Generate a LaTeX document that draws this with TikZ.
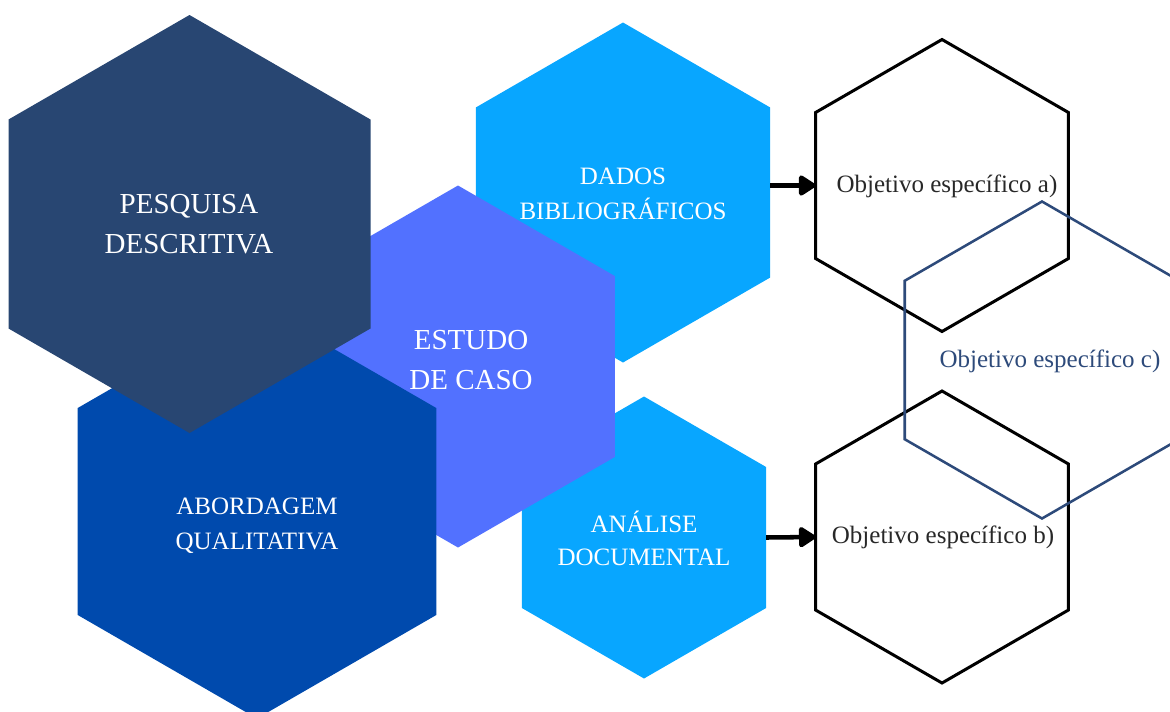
\documentclass[tikz,border=0pt]{standalone}
\usepackage{fontspec}
\setmainfont{Liberation Serif}
\definecolor{pesqnavy}{RGB}{40, 70, 114}
\definecolor{abordblue}{RGB}{0, 74, 173}
\definecolor{estudoviolet}{RGB}{82, 113, 255}
\definecolor{fontecyan}{RGB}{8, 166, 255}
\definecolor{objnavy}{RGB}{45, 74, 122}
\definecolor{objgray}{RGB}{40, 40, 40}
\usetikzlibrary{shapes.geometric,arrows.meta}

\begin{document}
\begin{tikzpicture}[x=0.75pt, y=-0.75pt,
        hexa/.style={regular polygon, regular polygon sides=6, regular polygon rotate=30, inner sep=0pt, outer sep=0pt, minimum size=#1},
        bigtxt/.style={align=center, text=white, font=\fontsize{21.75}{30}\selectfont},
        midtxt/.style={align=center, text=white, font=\fontsize{18.75}{26.25}\selectfont},
        objtxt/.style={font=\fontsize{18.75}{22}\selectfont},
        seta/.style={-{Triangle[length=14pt, width=17pt, round]}, line width=3.4pt}]
        \useasboundingbox (0, 0) rectangle (1170, 711);

        % Fontes de dados (atras)
        \node[hexa=255pt, fill=fontecyan] (dados) at (623, 192.5) {};
        \node[midtxt] (dadostxt) at (623, 194) {DADOS\\BIBLIOGRÁFICOS};
        \node[hexa=211.5pt, fill=fontecyan] (analise) at (644, 537.5) {};
        \node[midtxt, font=\fontsize{18.75}{24.75}\selectfont] (analisetxt) at (644, 538) {ANÁLISE\\DOCUMENTAL};

        % Estudo de caso
        \node[hexa=271.5pt, fill=estudoviolet] (estudo) at (458, 366.5) {};
        \node[bigtxt] (estudotxt) at (471, 360) {ESTUDO\\DE CASO};

        % Abordagem e tipo de pesquisa
        \node[hexa=310.5pt, fill=abordblue] (abordagem) at (257, 511.5) {};
        \node[midtxt] (abordagemtxt) at (257, 526) {ABORDAGEM\\QUALITATIVA};
        \node[hexa=313.5pt, fill=pesqnavy] (pesquisa) at (189.5, 224) {};
        \node[bigtxt] (pesquisatxt) at (189, 224) {PESQUISA\\DESCRITIVA};

        % Objetivos especificos
        \node[hexa=219pt, draw=black, line width=2.25pt] (obja) at (942, 185.5) {};
        \node[objtxt, text=objgray] (objatxt) at (947, 186) {Objetivo específico a)};
        \node[hexa=219pt, draw=black, line width=2.25pt] (objb) at (942, 537) {};
        \node[objtxt, text=objgray] (objbtxt) at (943, 537) {Objetivo específico b)};
        \node[hexa=237.75pt, draw=objnavy, line width=1.9pt] (objc) at (1042, 360) {};
        \node[objtxt, text=objnavy] (objctxt) at (1050, 361) {Objetivo específico c)};

        % Setas
        \draw[seta] (dados.east |- obja.west) -- (obja.west);
        \draw[seta] (analise.east) -- (objb.west);
    \end{tikzpicture}
\end{document}
